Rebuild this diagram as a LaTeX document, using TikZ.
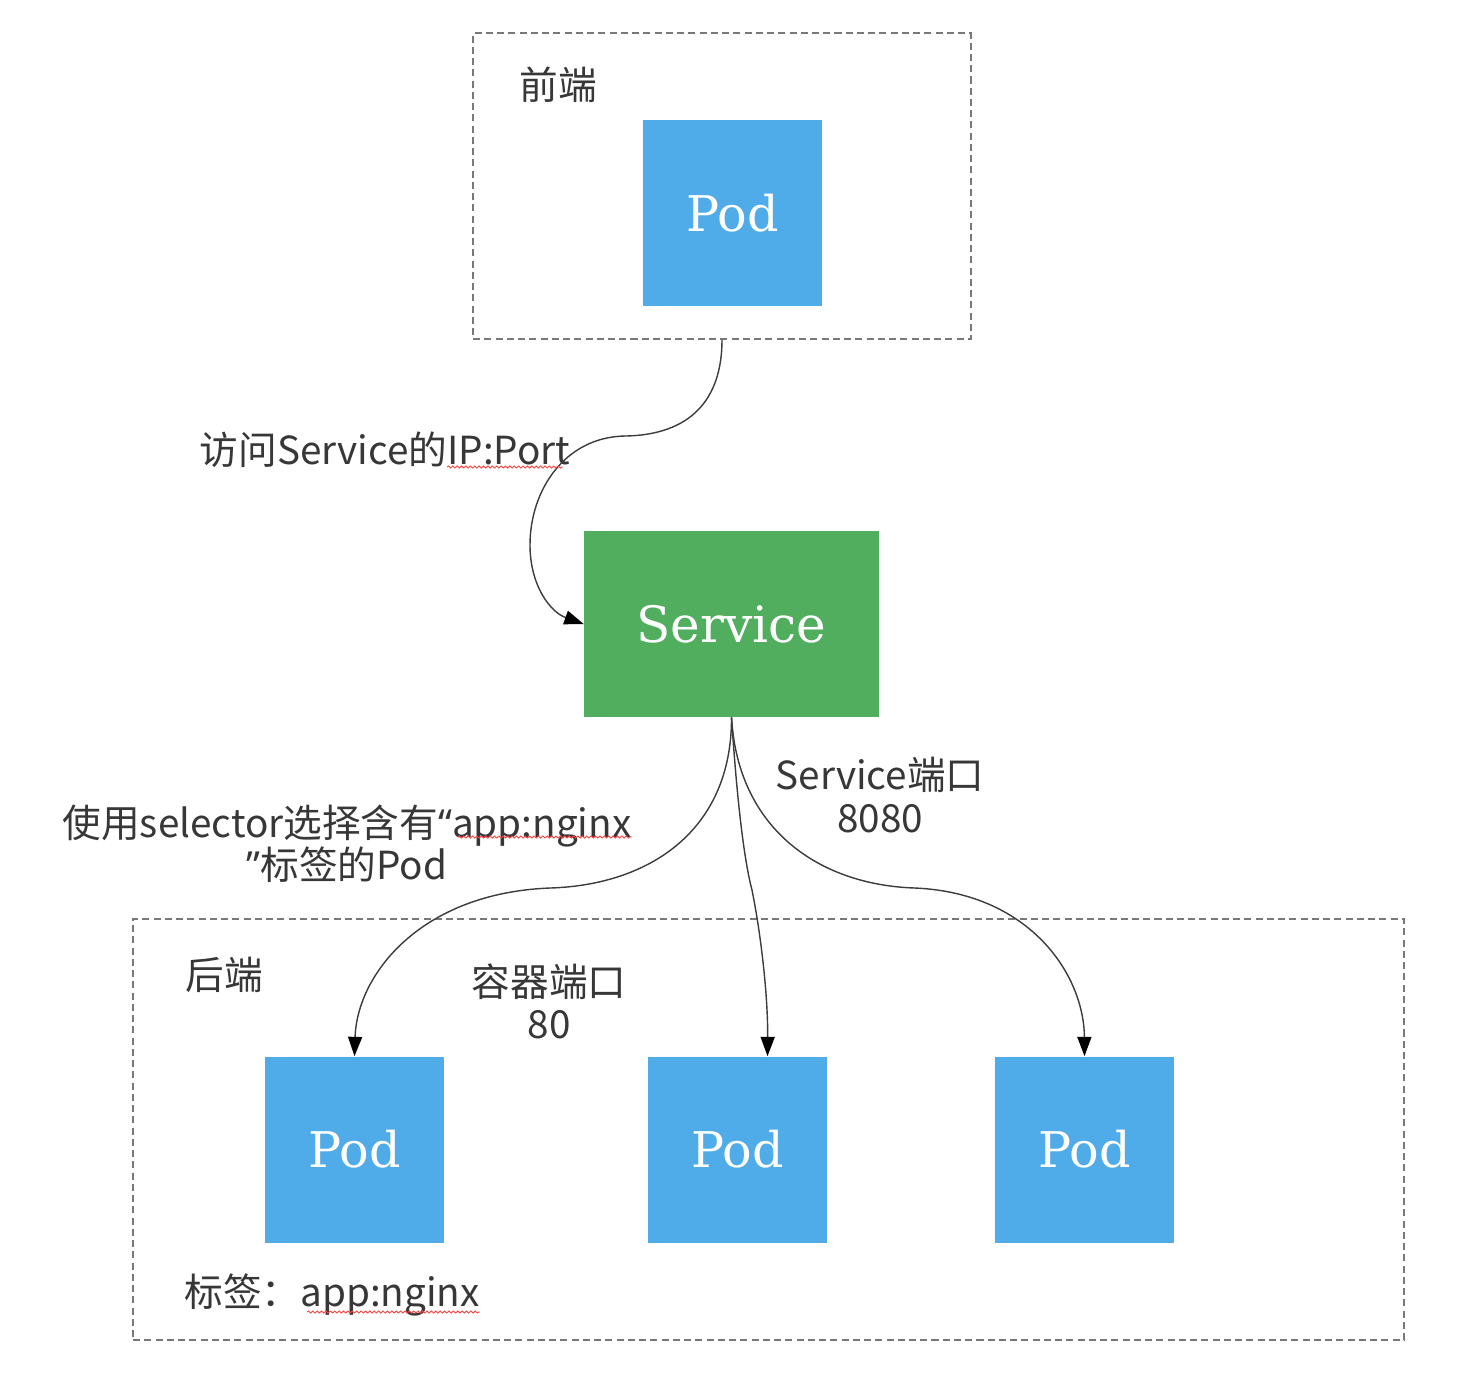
\documentclass[tikz,border=0pt]{standalone}
\usepackage{fontspec}
\usetikzlibrary{arrows.meta,calc,decorations.pathmorphing}
\newfontfamily\cjkfont{Noto Sans CJK SC}
\newfontfamily\latfont{Noto Sans}
\newfontfamily\podfont{DejaVu Serif}
\definecolor{podblue}{RGB}{79,172,232}
\definecolor{svcgreen}{RGB}{80,174,94}
\definecolor{txtgray}{RGB}{55,55,55}
\definecolor{boxgray}{RGB}{120,120,120}
\definecolor{linegray}{RGB}{60,60,60}
\tikzset{
  podbox/.style={fill=podblue, draw=none, minimum width=3.58cm, minimum height=3.72cm, inner sep=0pt,
    text=white, font=\podfont\fontsize{28}{32}\selectfont},
  svcbox/.style={fill=svcgreen, draw=none, minimum width=5.9cm, minimum height=3.72cm, inner sep=0pt,
    text=white, font=\podfont\fontsize{28.5}{32}\selectfont},
  groupbox/.style={draw=boxgray, line width=0.9pt, dash pattern=on 4pt off 2.4pt, inner sep=0pt, fill=none},
  lbl/.style={text=txtgray, font=\cjkfont\fontsize{22}{27}\selectfont, inner sep=0pt, align=center},
  conn/.style={draw=linegray, line width=0.8pt, -{Triangle[length=11pt,width=8pt,color=black]}},
  spell/.style={draw=red!75, line width=0.5pt, decorate, decoration={snake, amplitude=0.6pt, segment length=2.5pt}}
}
\begin{document}
\begin{tikzpicture}[x=0.02cm, y=-0.02cm]
\useasboundingbox (0,0) rectangle (1470,1374);
% groups
\node[groupbox, minimum width=9.96cm, minimum height=6.12cm] (front) at (722,186) {};
\node[groupbox, minimum width=25.42cm, minimum height=8.42cm] (back) at (768.5,1129.5) {};
% nodes
\node[podbox] (fpod) at (732.5,213) {Pod};
\node[svcbox] (svc) at (731.5,624) {Service};
\node[podbox] (p1) at (354.5,1149.5) {Pod};
\node[podbox] (p2) at (737.5,1149.5) {Pod};
\node[podbox] (p3) at (1084.5,1149.5) {Pod};
% labels
\node[lbl] (lfront) at (558,85) {前端};
\node[lbl] (laccess) at (385,450) {访问Service的IP:Port};
\node[lbl] (lsvcport) at (880,795) {Service端口\\[-3pt]8080};
\node[lbl] (lsel) at (347,844) {使用selector选择含有{\latfont “}app:nginx\\[-3pt]{\latfont ”}标签的Pod};
\node[lbl] (lback) at (224,975) {后端};
\node[lbl] (lcport) at (549,1001) {容器端口\\[-3pt]80};
\node[lbl, anchor=west] (ltag) at (184,1295) {标签：app:nginx};
% connectors
\draw[conn] (front.south) .. controls (722,400) and (690,435) .. (625,436)
   .. controls (565,437) and (530,490) .. (530,545)
   .. controls (530,585) and (550,612) .. (svc.west);
\draw[conn] (svc.south) .. controls (732,830) and (650,885) .. (550,888)
   .. controls (420,893) and (357,975) .. (p1.north);
\coordinate (p2in) at ($(p2.north)+(30,0)$);
\draw[conn] (svc.south) .. controls (737,800) and (744,860) .. (752,890)
   .. controls (762,940) and (768,1000) .. (p2in);
\draw[conn] (svc.south) .. controls (738,830) and (820,885) .. (915,888)
   .. controls (1030,893) and (1084,975) .. (p3.north);
% spell-check underlines
\draw[spell] (447,467) -- (563,467);
\draw[spell] (458,837) -- (632,837);
\draw[spell] (307,1312) -- (480,1312);
\end{tikzpicture}
\end{document}
